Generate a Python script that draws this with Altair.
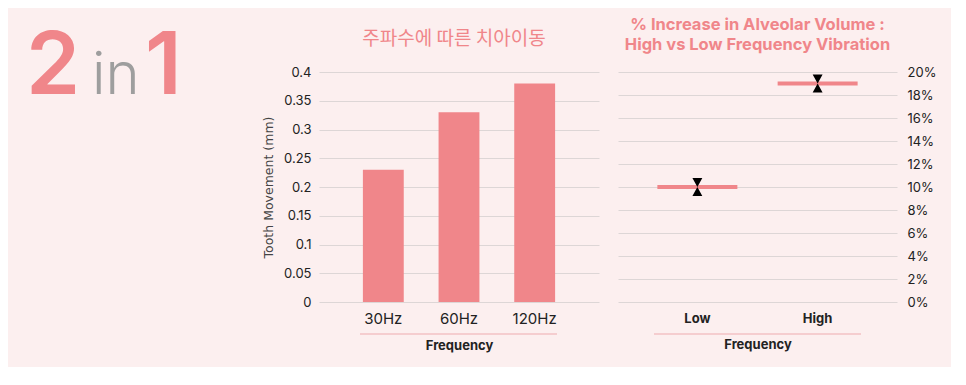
import altair as alt
import pandas as pd

# ---------------- data ----------------
logo_parts = ["2", "in", "1"]

left_title = "주파수에 따른 치아이동"
freq_labels = ["30Hz", "60Hz", "120Hz"]
tooth_movement = [0.23, 0.33, 0.38]
left_ticks = [0, 0.05, 0.1, 0.15, 0.2, 0.25, 0.3, 0.35, 0.4]

right_title = ["% Increase in Alveolar Volume :", "High vs Low Frequency Vibration"]
levels = ["Low", "High"]
volume_increase = [0.10, 0.19]
right_ticks = [0, 0.02, 0.04, 0.06, 0.08, 0.10, 0.12, 0.14, 0.16, 0.18, 0.20]

# ---------------- style ----------------
BG = "#FCEFEF"
PINK = "#F0868A"
GREY_LOGO = "#9E9E9E"
GRID = "#DDD6D6"
LINE = "#F5CDCF"
TXT = "#222222"
FONT = "Inter"
KFONT = "Noto Sans CJK KR"
HOURGLASS = "M-0.55,-1L0.55,-1L-0.55,1L0.55,1Z"

W_LOGO, W_LEFT, W_RIGHT, H = 291, 280, 279, 230

# ---------------- logo ----------------
one_row = pd.DataFrame({"k": [0]})
logo_2 = alt.Chart(one_row).mark_text(
    text=logo_parts[0], font=FONT, fontSize=87, fontWeight=600, color=PINK,
    align="left", baseline="alphabetic"
).encode(x=alt.value(17), y=alt.value(22))
logo_in = alt.Chart(one_row).mark_text(
    text=logo_parts[1], font=FONT, fontSize=58, fontWeight=300, color=GREY_LOGO,
    align="left", baseline="alphabetic"
).encode(x=alt.value(83), y=alt.value(22))
logo_1 = alt.Chart(one_row).mark_text(
    text=logo_parts[2], font=FONT, fontSize=87, fontWeight=600, color=PINK,
    align="left", baseline="alphabetic"
).encode(x=alt.value(136), y=alt.value(22))
logo = alt.layer(logo_2, logo_in, logo_1).properties(width=W_LOGO, height=H)

# ---------------- left: bar chart ----------------
df_left = pd.DataFrame({"Frequency": freq_labels, "Movement": tooth_movement})
bars = alt.Chart(df_left).mark_bar(color=PINK).encode(
    x=alt.X(
        "Frequency:N", sort=freq_labels,
        scale=alt.Scale(paddingInner=0.46, paddingOuter=0.58),
        axis=alt.Axis(
            title="Frequency", labelAngle=0, labelFont=FONT, labelFontSize=15,
            labelColor=TXT, labelPadding=9, domain=False, ticks=False,
            titleFont=FONT, titleFontSize=13, titleFontWeight="bold",
            titleColor=TXT, titlePadding=13,
        ),
    ),
    y=alt.Y(
        "Movement:Q", scale=alt.Scale(domain=[0, 0.4], nice=False),
        axis=alt.Axis(
            values=left_ticks, format=".2~f", title="Tooth Movement (mm)",
            labelFont=FONT, labelFontSize=13, labelColor=TXT, labelPadding=8,
            domain=False, ticks=False, gridColor=GRID, gridWidth=1,
            titleFont="DejaVu Sans", titleFontSize=12.5, titleFontWeight="normal",
            titleColor="#444444", titlePadding=8,
        ),
    ),
)
underline_left = alt.Chart(one_row).mark_rule(color=LINE, strokeWidth=2).encode(
    x=alt.value(41), x2=alt.value(238), y=alt.value(262)
)
left = alt.layer(bars, underline_left).properties(
    width=W_LEFT, height=H,
    title=alt.TitleParams(
        left_title, font=KFONT, fontSize=19, fontWeight="normal", color=PINK,
        anchor="middle", offset=17, dx=-5,
    ),
)

# ---------------- right: range markers ----------------
df_right = pd.DataFrame({"Level": levels, "Increase": volume_increase})
xr = alt.X(
    "Level:N", sort=levels,
    scale=alt.Scale(paddingInner=0, paddingOuter=0.16),
    axis=alt.Axis(
        title="Frequency", labelAngle=0, labelFont=FONT, labelFontSize=13,
        labelFontWeight="bold", labelColor=TXT, labelPadding=10,
        domain=False, ticks=False, titleFont=FONT, titleFontSize=13,
        titleFontWeight="bold", titleColor=TXT, titlePadding=13,
    ),
)
yr = alt.Y(
    "Increase:Q", scale=alt.Scale(domain=[0, 0.2], nice=False),
    axis=alt.Axis(
        orient="right", values=right_ticks, format=".0%", title=None,
        labelFont=FONT, labelFontSize=13, labelColor=TXT, labelPadding=10,
        domain=False, ticks=False, gridColor=GRID, gridWidth=1,
    ),
)
ranges = alt.Chart(df_right).mark_tick(color=PINK, size=80, thickness=4, opacity=1).encode(x=xr, y=yr)
markers = alt.Chart(df_right).mark_point(
    shape=HOURGLASS, size=324, filled=True, color="black", opacity=1
).encode(x=xr, y=yr)
underline_right = alt.Chart(one_row).mark_rule(color=LINE, strokeWidth=2).encode(
    x=alt.value(36), x2=alt.value(243), y=alt.value(262)
)
right = alt.layer(ranges, markers, underline_right).properties(
    width=W_RIGHT, height=H,
    title=alt.TitleParams(
        right_title, font=FONT, fontSize=16.5, fontWeight="bold", color=PINK,
        anchor="middle", offset=13, lineHeight=19.5,
    ),
)

chart = alt.hconcat(logo, left, right, spacing=19, bounds="flush").configure(
    background=BG, padding={"left": 0, "top": 8, "right": 14, "bottom": 14}
).configure_view(stroke="transparent")

chart.save("out.html", embed_options={"renderer": "svg", "actions": False})
